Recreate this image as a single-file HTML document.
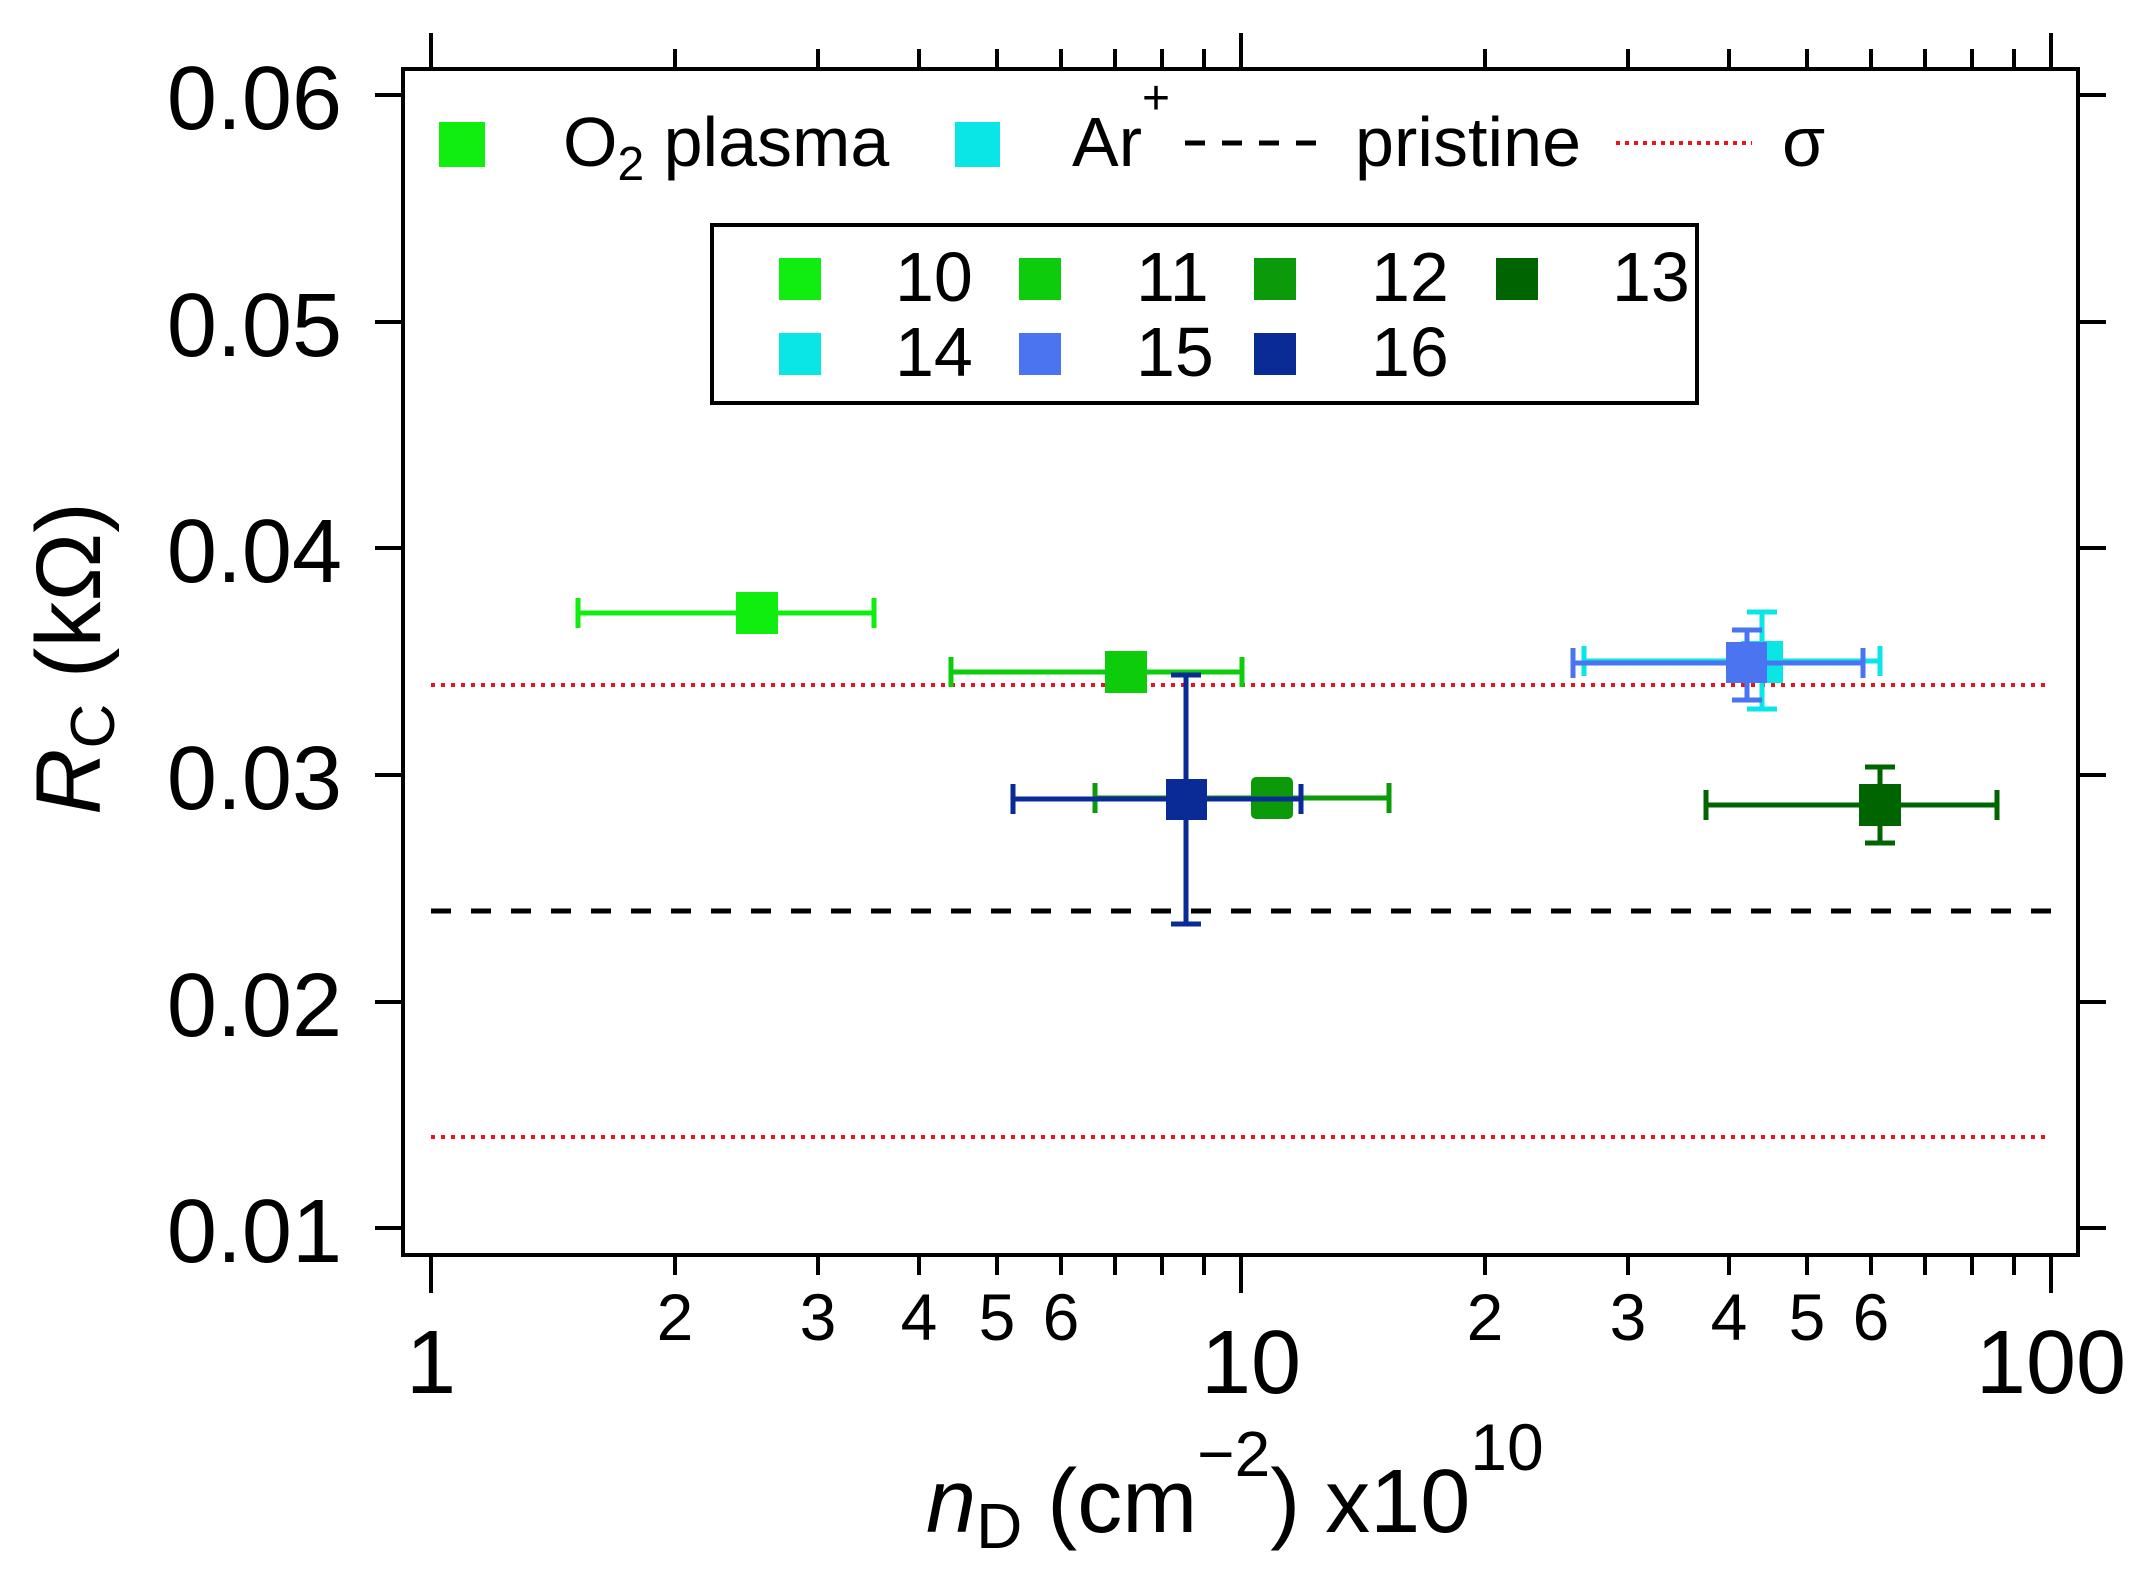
<!DOCTYPE html>
<html><head><meta charset="utf-8"><style>
html,body{margin:0;padding:0;background:#fff;}
svg{display:block;}
text{font-family:"Liberation Sans",Arial,sans-serif;fill:#000;}
</style></head><body>
<svg width="2142" height="1582" viewBox="0 0 2142 1582" xmlns="http://www.w3.org/2000/svg">
<rect width="2142" height="1582" fill="#fff"/>
<!-- reference lines -->
<line x1="431" y1="685" x2="2051" y2="685" stroke="#e8141e" stroke-width="4" stroke-dasharray="4,6"/>
<line x1="431" y1="1137" x2="2051" y2="1137" stroke="#e8141e" stroke-width="4" stroke-dasharray="4,6"/>
<line x1="431" y1="911" x2="2051" y2="911" stroke="#000" stroke-width="5" stroke-dasharray="20,20"/>

<!-- 10 -->
<g stroke="#10ee10" stroke-width="5" fill="#10ee10">
<line x1="578" y1="613" x2="874" y2="613"/><line x1="578" y1="598" x2="578" y2="628"/><line x1="874" y1="598" x2="874" y2="628"/>
<rect x="736" y="592" width="42" height="42" stroke="none"/></g>
<!-- 11 -->
<g stroke="#0ccc0c" stroke-width="5" fill="#0ccc0c">
<line x1="951" y1="672" x2="1242" y2="672"/><line x1="951" y1="657" x2="951" y2="687"/><line x1="1242" y1="657" x2="1242" y2="687"/>
<rect x="1105" y="651" width="42" height="42" stroke="none"/></g>
<!-- 12 -->
<g stroke="#0a9a0a" stroke-width="5" fill="#0a9a0a">
<line x1="1095" y1="798" x2="1389" y2="798"/><line x1="1095" y1="783" x2="1095" y2="813"/><line x1="1389" y1="783" x2="1389" y2="813"/>
<rect x="1251" y="777" width="42" height="42" rx="5" stroke="none"/></g>
<!-- 16 -->
<g stroke="#0a2a96" stroke-width="5" fill="#0a2a96">
<line x1="1013" y1="799" x2="1301" y2="799"/><line x1="1013" y1="784" x2="1013" y2="814"/><line x1="1301" y1="784" x2="1301" y2="814"/>
<line x1="1186" y1="675" x2="1186" y2="924"/><line x1="1171" y1="675" x2="1201" y2="675"/><line x1="1171" y1="924" x2="1201" y2="924"/>
<rect x="1166" y="779" width="41" height="41" stroke="none"/></g>
<!-- 13 -->
<g stroke="#006400" stroke-width="5" fill="#006400">
<line x1="1706" y1="805" x2="1997" y2="805"/><line x1="1706" y1="790" x2="1706" y2="820"/><line x1="1997" y1="790" x2="1997" y2="820"/>
<line x1="1880" y1="767" x2="1880" y2="843"/><line x1="1865" y1="767" x2="1895" y2="767"/><line x1="1865" y1="843" x2="1895" y2="843"/>
<rect x="1859" y="784" width="42" height="42" stroke="none"/></g>
<!-- 14 -->
<g stroke="#0ae6e6" stroke-width="5" fill="#0ae6e6">
<line x1="1584" y1="661" x2="1880" y2="661"/><line x1="1584" y1="646" x2="1584" y2="676"/><line x1="1880" y1="646" x2="1880" y2="676"/>
<line x1="1762" y1="612" x2="1762" y2="709"/><line x1="1747" y1="612" x2="1777" y2="612"/><line x1="1747" y1="709" x2="1777" y2="709"/>
<rect x="1741" y="641" width="42" height="42" stroke="none"/></g>
<!-- 15 -->
<g stroke="#4a74f0" stroke-width="5" fill="#4a74f0">
<line x1="1573" y1="663" x2="1863" y2="663"/><line x1="1573" y1="648" x2="1573" y2="678"/><line x1="1863" y1="648" x2="1863" y2="678"/>
<line x1="1747" y1="630" x2="1747" y2="700"/><line x1="1732" y1="630" x2="1762" y2="630"/><line x1="1732" y1="700" x2="1762" y2="700"/>
<rect x="1726" y="642" width="41" height="41" stroke="none"/></g>

<!-- frame -->
<rect x="403" y="69" width="1675" height="1186" fill="none" stroke="#000" stroke-width="4"/>
<g stroke="#000" stroke-width="4">
<line x1="375" y1="95" x2="403" y2="95"/><line x1="375" y1="322" x2="403" y2="322"/><line x1="375" y1="548" x2="403" y2="548"/>
<line x1="375" y1="775" x2="403" y2="775"/><line x1="375" y1="1002" x2="403" y2="1002"/><line x1="375" y1="1228" x2="403" y2="1228"/>
<line x1="2078" y1="95" x2="2106" y2="95"/><line x1="2078" y1="322" x2="2106" y2="322"/><line x1="2078" y1="548" x2="2106" y2="548"/>
<line x1="2078" y1="775" x2="2106" y2="775"/><line x1="2078" y1="1002" x2="2106" y2="1002"/><line x1="2078" y1="1228" x2="2106" y2="1228"/>
<line x1="431" y1="1255" x2="431" y2="1293"/><line x1="1241" y1="1255" x2="1241" y2="1293"/><line x1="2051" y1="1255" x2="2051" y2="1293"/>
<line x1="431" y1="69" x2="431" y2="33"/><line x1="1241" y1="69" x2="1241" y2="33"/><line x1="2051" y1="69" x2="2051" y2="33"/>
</g>
<g stroke="#000" stroke-width="4">
<line x1="675" y1="1255" x2="675" y2="1275"/><line x1="818" y1="1255" x2="818" y2="1275"/><line x1="919" y1="1255" x2="919" y2="1275"/><line x1="997" y1="1255" x2="997" y2="1275"/><line x1="1061" y1="1255" x2="1061" y2="1275"/><line x1="1115" y1="1255" x2="1115" y2="1275"/><line x1="1162" y1="1255" x2="1162" y2="1275"/><line x1="1204" y1="1255" x2="1204" y2="1275"/>
<line x1="1485" y1="1255" x2="1485" y2="1275"/><line x1="1628" y1="1255" x2="1628" y2="1275"/><line x1="1729" y1="1255" x2="1729" y2="1275"/><line x1="1807" y1="1255" x2="1807" y2="1275"/><line x1="1871" y1="1255" x2="1871" y2="1275"/><line x1="1925" y1="1255" x2="1925" y2="1275"/><line x1="1972" y1="1255" x2="1972" y2="1275"/><line x1="2014" y1="1255" x2="2014" y2="1275"/>
<line x1="675" y1="69" x2="675" y2="49"/><line x1="818" y1="69" x2="818" y2="49"/><line x1="919" y1="69" x2="919" y2="49"/><line x1="997" y1="69" x2="997" y2="49"/><line x1="1061" y1="69" x2="1061" y2="49"/><line x1="1115" y1="69" x2="1115" y2="49"/><line x1="1162" y1="69" x2="1162" y2="49"/><line x1="1204" y1="69" x2="1204" y2="49"/>
<line x1="1485" y1="69" x2="1485" y2="49"/><line x1="1628" y1="69" x2="1628" y2="49"/><line x1="1729" y1="69" x2="1729" y2="49"/><line x1="1807" y1="69" x2="1807" y2="49"/><line x1="1871" y1="69" x2="1871" y2="49"/><line x1="1925" y1="69" x2="1925" y2="49"/><line x1="1972" y1="69" x2="1972" y2="49"/><line x1="2014" y1="69" x2="2014" y2="49"/>
</g>

<g font-size="90" text-anchor="end">
<text x="342" y="129">0.06</text><text x="342" y="356">0.05</text><text x="342" y="582">0.04</text>
<text x="342" y="809">0.03</text><text x="342" y="1036">0.02</text><text x="342" y="1262">0.01</text>
</g>
<g font-size="90" text-anchor="middle">
<text x="431" y="1393">1</text><text x="1251" y="1393">10</text><text x="2051" y="1393">100</text>
</g>
<g font-size="66" text-anchor="middle">
<text x="675" y="1340">2</text><text x="818" y="1340">3</text><text x="919" y="1340">4</text><text x="997" y="1340">5</text><text x="1061" y="1340">6</text>
<text x="1485" y="1340">2</text><text x="1628" y="1340">3</text><text x="1729" y="1340">4</text><text x="1807" y="1340">5</text><text x="1871" y="1340">6</text>
</g>

<text transform="translate(100,815) rotate(-90)" font-size="92"><tspan font-style="italic">R</tspan><tspan font-size="62" dy="14">C</tspan><tspan dy="-14"> (kΩ)</tspan></text>
<text x="926" y="1532" font-size="90"><tspan font-style="italic">n</tspan><tspan font-size="64" dy="16">D</tspan><tspan dy="-16"> (cm</tspan><tspan font-size="64" dy="-56">−2</tspan><tspan dy="56">) x10</tspan><tspan font-size="66" dy="-62">10</tspan></text>

<rect x="439" y="122" width="46" height="45" fill="#10ee10"/>
<text x="563" y="166" font-size="70">O<tspan font-size="48" dy="14">2</tspan><tspan dy="-14"> plasma</tspan></text>
<rect x="955" y="122" width="45" height="45" fill="#0ae6e6"/>
<text x="1072" y="166" font-size="70">Ar<tspan font-size="48" dy="-52">+</tspan></text>
<line x1="1185" y1="143" x2="1317" y2="143" stroke="#000" stroke-width="5" stroke-dasharray="20,17"/>
<text x="1355" y="166" font-size="70" textLength="226">pristine</text>
<line x1="1616" y1="143" x2="1752" y2="143" stroke="#e8141e" stroke-width="4" stroke-dasharray="4,5"/>
<text x="1782" y="166" font-size="70">σ</text>

<rect x="712" y="225" width="985" height="178" fill="#fff" stroke="#000" stroke-width="4"/>
<g font-size="70">
<rect x="779" y="258" width="42" height="42" fill="#10ee10"/><text x="895" y="301">10</text>
<rect x="1019" y="258" width="42" height="42" fill="#0ccc0c"/><text x="1136" y="301">11</text>
<rect x="1254" y="258" width="42" height="42" fill="#0a9a0a"/><text x="1371" y="301">12</text>
<rect x="1496" y="258" width="42" height="42" fill="#006400"/><text x="1612" y="301">13</text>
<rect x="779" y="333" width="42" height="42" fill="#0ae6e6"/><text x="895" y="376">14</text>
<rect x="1019" y="333" width="42" height="42" fill="#4a74f0"/><text x="1136" y="376">15</text>
<rect x="1254" y="333" width="42" height="42" fill="#0a2a96"/><text x="1371" y="376">16</text>
</g>
</svg>
</body></html>
